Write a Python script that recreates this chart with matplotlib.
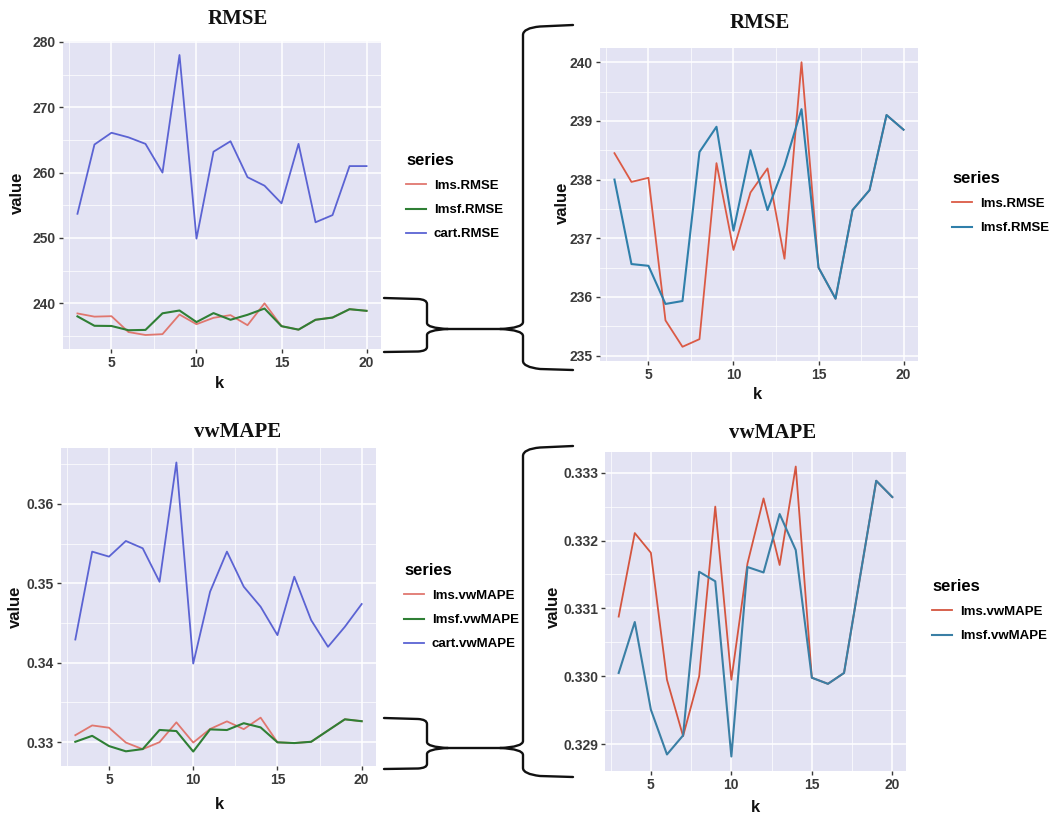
import matplotlib
matplotlib.use("Agg")
import matplotlib.pyplot as plt
from matplotlib.path import Path
from matplotlib.patches import PathPatch

plt.rcParams["font.family"] = ["Liberation Sans", "DejaVu Sans"]

W, H = 1052, 813

# ── data ────────────────────────────────────────────────────
k = list(range(3, 21))

lms_rmse = [238.45, 237.96, 238.03, 235.60, 235.15, 235.28, 238.28, 236.80, 237.78,
            238.19, 236.65, 240.00, 236.50, 235.97, 237.48, 237.82, 239.10, 238.85]
lmsf_rmse = [238.00, 236.56, 236.53, 235.88, 235.93, 238.47, 238.90, 237.13, 238.50,
             237.48, 238.24, 239.20, 236.50, 235.97, 237.48, 237.82, 239.10, 238.85]
cart_rmse = [253.7, 264.3, 266.1, 265.4, 264.4, 260.0, 278.0, 249.9, 263.2,
             264.8, 259.3, 258.0, 255.3, 264.4, 252.4, 253.5, 261.0, 261.0]

lms_mape = [0.33088, 0.33211, 0.33182, 0.32995, 0.32912, 0.33000, 0.33250, 0.32995, 0.33166,
            0.33262, 0.33164, 0.33309, 0.32998, 0.32989, 0.33005, 0.33147, 0.33288, 0.33264]
lmsf_mape = [0.33005, 0.33080, 0.32951, 0.32885, 0.32913, 0.33154, 0.33140, 0.32882, 0.33161,
             0.33153, 0.33239, 0.33186, 0.32998, 0.32989, 0.33005, 0.33147, 0.33288, 0.33264]
cart_mape = [0.34293, 0.35400, 0.35337, 0.35534, 0.35442, 0.35020, 0.36523, 0.33990, 0.34895,
             0.35400, 0.34958, 0.34706, 0.34348, 0.35084, 0.34537, 0.34201, 0.34453, 0.34740]

PANEL = "#E3E3F3"
TICKC = "#3a3a3a"


def fx(x):
    return x / W


def fy(y):
    return 1 - y / H


def add_ax(x0, y0, x1, y1):
    return fig.add_axes([fx(x0), fy(y1), (x1 - x0) / W, (y1 - y0) / H])


def style(ax, yticks, yfmt):
    ax.set_facecolor(PANEL)
    for s in ax.spines.values():
        s.set_visible(False)
    ax.set_xticks([5, 10, 15, 20])
    ax.set_xticks([2.5, 7.5, 12.5, 17.5], minor=True)
    ax.set_yticks(yticks)
    step = yticks[1] - yticks[0]
    ax.set_yticks([t + step / 2 for t in yticks[:-1]] + [yticks[0] - step / 2, yticks[-1] + step / 2],
                  minor=True)
    ax.set_yticklabels([yfmt.format(t) for t in yticks])
    ax.grid(which="major", color="white", lw=1.1)
    ax.grid(which="minor", color="white", lw=0.5)
    ax.set_axisbelow(True)
    ax.tick_params(which="major", length=3, width=1, color=TICKC, labelcolor=TICKC,
                   labelsize=10, pad=2)
    ax.tick_params(which="minor", length=0)
    for lab in ax.get_xticklabels() + ax.get_yticklabels():
        lab.set_fontweight("bold")
    ax.set_xlim(2.15, 20.85)


def lims(ax, *series):
    lo = min(min(s) for s in series)
    hi = max(max(s) for s in series)
    pad = (hi - lo) * 0.05
    ax.set_ylim(lo - pad, hi + pad)


def legend(handles, labels, x, y):
    fig.legend(handles, labels, title="series", loc="upper left",
               bbox_to_anchor=(fx(x), fy(y)), bbox_transform=fig.transFigure,
               frameon=False, handlelength=1.5, handletextpad=0.6, labelspacing=0.9,
               alignment="left", borderaxespad=0, borderpad=0,
               prop={"weight": "bold", "size": 9.5},
               title_fontproperties={"weight": "bold", "size": 12})


def label(x, y, s, **kw):
    fig.text(fx(x), fy(y), s, ha="center", va="center", **kw)


fig = plt.figure(figsize=(W / 100, H / 100), dpi=100)
fig.patch.set_facecolor("white")

title_kw = dict(fontsize=15, fontweight="bold", family="Liberation Serif", color="#111111")
axlab_kw = dict(fontsize=12, fontweight="bold", color="#111111")

# ── top left: RMSE, 3 series ───────────────────────────────
ax1 = add_ax(63, 41, 381, 349)
l1, = ax1.plot(k, lms_rmse, color="#E0776F", lw=1.3)
l2, = ax1.plot(k, lmsf_rmse, color="#2F7F35", lw=1.5)
l3, = ax1.plot(k, cart_rmse, color="#5B63D3", lw=1.3)
style(ax1, [240, 250, 260, 270, 280], "{:.0f}")
lims(ax1, lms_rmse, lmsf_rmse, cart_rmse)
legend([l1, l2, l3], ["lms.RMSE", "lmsf.RMSE", "cart.RMSE"], 406, 153)
label(238, 19, "RMSE", **title_kw)
label(17, 193, "value", rotation=90, **axlab_kw)
label(219, 383, "k", **axlab_kw)

# ── top right: RMSE, 2 series ──────────────────────────────
ax2 = add_ax(600, 48, 918, 361)
r1, = ax2.plot(k, lms_rmse, color="#DB5A45", lw=1.3)
r2, = ax2.plot(k, lmsf_rmse, color="#2F7FAA", lw=1.5)
style(ax2, [235, 236, 237, 238, 239, 240], "{:.0f}")
lims(ax2, lms_rmse, lmsf_rmse)
legend([r1, r2], ["lms.RMSE", "lmsf.RMSE"], 952, 171)
label(760, 23, "RMSE", **title_kw)
label(562, 203, "value", rotation=90, **axlab_kw)
label(757, 394, "k", **axlab_kw)

# ── bottom left: vwMAPE, 3 series ──────────────────────────
ax3 = add_ax(61, 448, 376, 766)
b1, = ax3.plot(k, lms_mape, color="#E0776F", lw=1.3)
b2, = ax3.plot(k, lmsf_mape, color="#2F7F35", lw=1.5)
b3, = ax3.plot(k, cart_mape, color="#5B63D3", lw=1.3)
style(ax3, [0.33, 0.34, 0.35, 0.36], "{:.2f}")
lims(ax3, lms_mape, lmsf_mape, cart_mape)
legend([b1, b2, b3], ["lms.vwMAPE", "lmsf.vwMAPE", "cart.vwMAPE"], 404, 563)
label(238, 432, "vwMAPE", **title_kw)
label(15, 607, "value", rotation=90, **axlab_kw)
label(219, 804, "k", **axlab_kw)

# ── bottom right: vwMAPE, 2 series ─────────────────────────
ax4 = add_ax(605, 452, 906, 771)
s1, = ax4.plot(k, lms_mape, color="#D4553F", lw=1.3)
s2, = ax4.plot(k, lmsf_mape, color="#3A7FA5", lw=1.5)
style(ax4, [0.329, 0.330, 0.331, 0.332, 0.333], "{:.3f}")
lims(ax4, lms_mape, lmsf_mape)
legend([s1, s2], ["lms.vwMAPE", "lmsf.vwMAPE"], 932, 579)
label(773, 433, "vwMAPE", **title_kw)
label(553, 607, "value", rotation=90, **axlab_kw)
label(755, 807, "k", **axlab_kw)


# ── braces joining the zoomed panels ───────────────────────
def brace_pair(ys_top, ys_bot, yj, yb_top, yb_bot, xs=427, xb=523):
    M, L, C = Path.MOVETO, Path.LINETO, Path.CURVE3
    verts, codes = [], []

    def seg(v, c):
        verts.append((fx(v[0]), fy(v[1])))
        codes.append(c)

    # big brace upper
    seg((573, yb_top), M); seg((540, yb_top + 1.5), L)
    seg((xb, yb_top + 3), C); seg((xb, yb_top + 10), C)
    seg((xb, yj - 7), L)
    seg((xb, yj - 1), C); seg((500, yj), C)
    # connector to small brace, upper arm
    seg((448, yj), L)
    seg((xs, yj - 1), C); seg((xs, yj - 6), C)
    seg((xs, ys_top + 6), L)
    seg((xs, ys_top + 1.5), C); seg((418, ys_top + 1), C)
    seg((384, ys_top), L)
    # small brace lower
    seg((448, yj), M)
    seg((xs, yj + 1), C); seg((xs, yj + 6), C)
    seg((xs, ys_bot - 5), L)
    seg((xs, ys_bot - 1), C); seg((418, ys_bot - 0.5), C)
    seg((384, ys_bot), L)
    # big brace lower
    seg((500, yj), M)
    seg((xb, yj + 1), C); seg((xb, yj + 7), C)
    seg((xb, yb_bot - 9), L)
    seg((xb, yb_bot - 3), C); seg((540, yb_bot - 1), C)
    seg((573, yb_bot), L)
    fig.add_artist(PathPatch(Path(verts, codes), transform=fig.transFigure,
                             fill=False, edgecolor="#111111", lw=1.7,
                             capstyle="round", joinstyle="round"))


brace_pair(298, 352, 329, 25, 370)
brace_pair(718, 769, 748, 446, 777)

fig.savefig("out.png", dpi=100, facecolor="white")
